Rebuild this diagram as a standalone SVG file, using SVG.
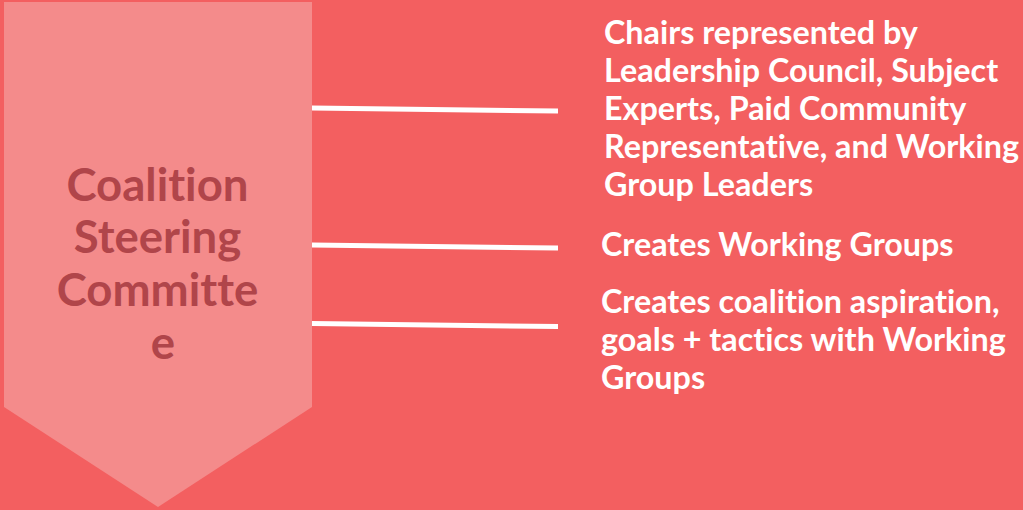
<svg xmlns="http://www.w3.org/2000/svg" width="1023" height="510" viewBox="0 0 1023 510">
  <style>
    .bg { fill: #F35F60; }
    .banner { fill: #F48B8B; }
    .title { font-family: Lato, "Open Sans", sans-serif; font-weight: bold; font-size: 45.5px; fill: #B0454A; text-anchor: middle; font-variant-ligatures: none; }
    .label { font-family: Lato, "Open Sans", sans-serif; font-weight: bold; font-size: 32.3px; fill: #FFFFFF; font-variant-ligatures: none; }
    .link { stroke: #FFFFFF; stroke-width: 5; fill: none; }
  </style>
  <rect class="bg" x="0" y="0" width="1023" height="510"/>

  <g id="steering-committee">
    <polygon class="banner" points="4,2 312,2 312,407 158,507 4,407"/>
    <text class="title">
      <tspan x="163" y="201">Coalition</tspan>
      <tspan x="163" y="253">Steering</tspan>
      <tspan x="163" y="306">Committe</tspan>
      <tspan x="163" y="359">e</tspan>
    </text>
  </g>

  <g id="connectors">
    <line class="link" x1="312" y1="108" x2="558" y2="111"/>
    <line class="link" x1="312" y1="245" x2="558" y2="248"/>
    <line class="link" x1="312" y1="323.5" x2="558" y2="326.5"/>
  </g>

  <g id="chairs">
    <text class="label">
      <tspan x="604" y="44">Chairs represented by</tspan>
      <tspan x="604" y="82">Leadership Council, Subject</tspan>
      <tspan x="604" y="120">Experts, Paid Community</tspan>
      <tspan x="604" y="158">Representative, and Working</tspan>
      <tspan x="604" y="196">Group Leaders</tspan>
    </text>
  </g>

  <g id="working-groups">
    <text class="label">
      <tspan x="601" y="256">Creates Working Groups</tspan>
    </text>
  </g>

  <g id="aspiration">
    <text class="label">
      <tspan x="601" y="313">Creates coalition aspiration,</tspan>
      <tspan x="601" y="351">goals + tactics with Working</tspan>
      <tspan x="601" y="389">Groups</tspan>
    </text>
  </g>
</svg>
